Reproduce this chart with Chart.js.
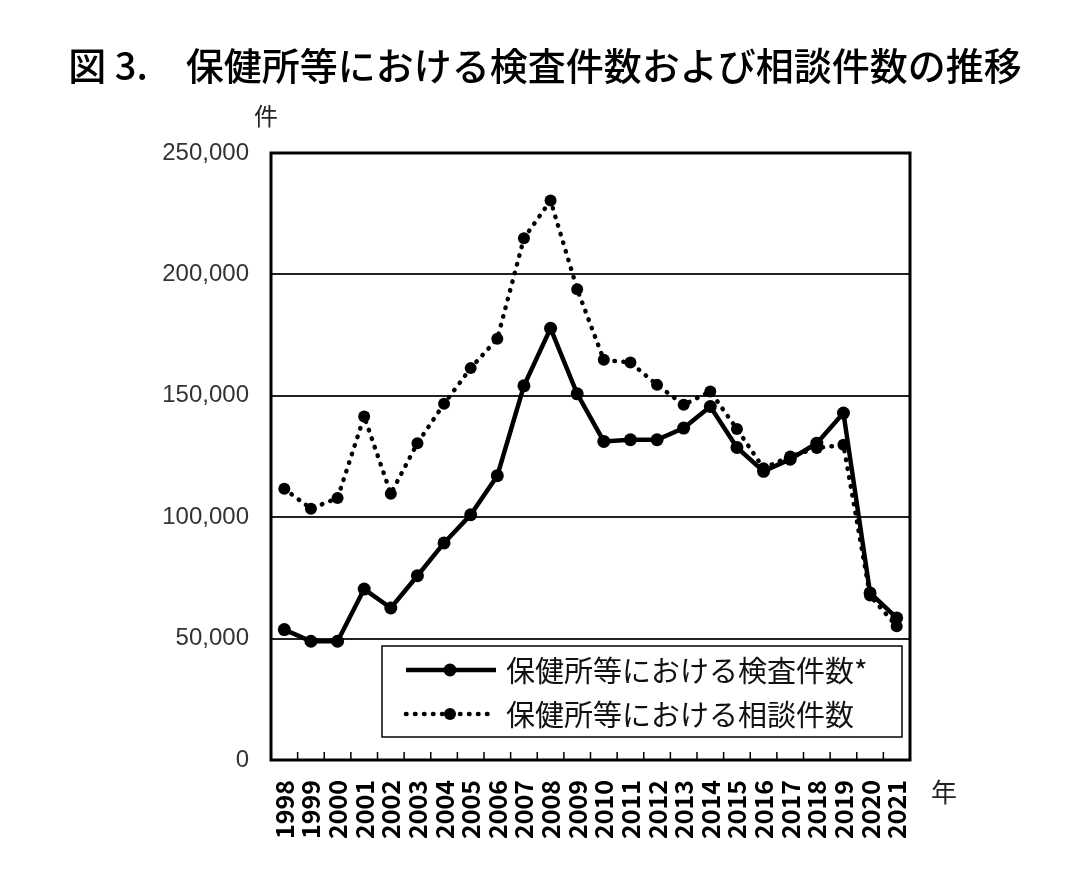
<!DOCTYPE html>
<html>
<head>
<meta charset="utf-8">
<script src="https://cdn.jsdelivr.net/npm/chart.js@4.4.1/dist/chart.umd.min.js"></script>
<style>
html,body{margin:0;padding:0;background:#fff;}
canvas{display:block;}
</style>
</head>
<body>
<canvas id="c" width="1086" height="886"></canvas>
<script>
const years = ["1998","1999","2000","2001","2002","2003","2004","2005","2006","2007","2008","2009","2010","2011","2012","2013","2014","2015","2016","2017","2018","2019","2020","2021"];
const testCounts = [53700,48900,48900,70400,62600,75900,89400,101000,117100,154100,177800,150800,131200,131900,131900,136700,145600,128700,118900,123900,130500,142900,68800,58500];
const consultCounts = [111700,103500,107900,141500,109700,130500,146700,161400,173500,214900,230400,193900,164800,163700,154500,146300,151800,136300,120200,125000,128500,129800,67700,55100];
const yTicks = [0,50000,100000,150000,200000,250000];
const titleText = "図 3.\u3000保健所等における検査件数および相談件数の推移";
const seriesLabels = ["保健所等における検査件数*","保健所等における相談件数"];
const yUnit = "件";
const xUnit = "年";

const JP = '"Noto Sans CJK JP","Noto Sans",sans-serif';

const decor = {
  id: 'decor',
  afterDatasetsDraw(chart) {
    const ctx = chart.ctx;
    const a = chart.chartArea;
    const xs = chart.scales.x;
    ctx.save();
    // inner tick marks at category boundaries
    ctx.strokeStyle = '#000';
    ctx.lineWidth = 1.5;
    for (let i = 1; i < years.length; i++) {
      const px = (xs.getPixelForValue(i - 1) + xs.getPixelForValue(i)) / 2;
      ctx.beginPath();
      ctx.moveTo(px, a.bottom);
      ctx.lineTo(px, a.bottom - 8);
      ctx.stroke();
    }
    // frame
    ctx.lineWidth = 3;
    ctx.strokeRect(a.left, a.top, a.right - a.left, a.bottom - a.top);

    // legend
    const lx = a.left + 111, ly = a.top + 493, lw = 520, lh = 91;
    ctx.fillStyle = '#fff';
    ctx.fillRect(lx, ly, lw, lh);
    ctx.lineWidth = 1.5;
    ctx.strokeStyle = '#000';
    ctx.strokeRect(lx, ly, lw, lh);
    const rows = [ly + 24, ly + 68];
    chart.data.datasets.forEach((ds, i) => {
      const y = rows[i];
      ctx.save();
      ctx.strokeStyle = '#000';
      ctx.lineWidth = ds.borderWidth;
      ctx.lineCap = ds.borderCapStyle || 'butt';
      ctx.setLineDash(ds.borderDash || []);
      ctx.beginPath();
      ctx.moveTo(lx + 24, y);
      ctx.lineTo(lx + 114, y);
      ctx.stroke();
      ctx.setLineDash([]);
      ctx.fillStyle = '#000';
      ctx.beginPath();
      ctx.arc(lx + 68, y, ds.pointRadius, 0, Math.PI * 2);
      ctx.fill();
      ctx.restore();
      ctx.fillStyle = '#111';
      ctx.font = '29px ' + JP;
      ctx.textAlign = 'left';
      ctx.textBaseline = 'middle';
      ctx.fillText(ds.label, lx + 124, y + 1);
    });

    // title
    ctx.fillStyle = '#000';
    ctx.font = '500 38px ' + JP;
    ctx.textAlign = 'center';
    ctx.textBaseline = 'middle';
    ctx.fillText(titleText, 545, 66);
    // units
    ctx.font = '24px ' + JP;
    ctx.fillStyle = '#222';
    ctx.fillText(yUnit, a.left - 5, 116);
    ctx.font = '26px ' + JP;
    ctx.fillText(xUnit, a.right + 34, 792);
    ctx.restore();
  }
};

new Chart(document.getElementById('c'), {
  type: 'line',
  data: {
    labels: years,
    datasets: [
      {
        label: seriesLabels[0],
        data: testCounts,
        borderColor: '#000',
        backgroundColor: '#000',
        borderWidth: 4.5,
        pointRadius: 6.5,
        pointBackgroundColor: '#000',
        pointBorderWidth: 0,
        tension: 0,
        order: 1
      },
      {
        label: seriesLabels[1],
        data: consultCounts,
        borderColor: '#000',
        backgroundColor: '#000',
        borderWidth: 4.5,
        borderDash: [0.5, 8.5],
        borderCapStyle: 'round',
        pointRadius: 6,
        pointBackgroundColor: '#000',
        pointBorderWidth: 0,
        tension: 0,
        order: 2
      }
    ]
  },
  options: {
    responsive: false,
    animation: false,
    devicePixelRatio: 1,
    layout: { padding: { top: 153, right: 176, left: 0, bottom: 0 } },
    plugins: {
      legend: { display: false },
      title: { display: false },
      tooltip: { enabled: false }
    },
    scales: {
      x: {
        type: 'category',
        offset: true,
        grid: { display: false, drawTicks: false },
        border: { display: false },
        ticks: {
          autoSkip: false,
          maxRotation: 90,
          minRotation: 90,
          padding: 20,
          color: '#000',
          font: { family: JP, size: 25, weight: 'bold' }
        },
        afterFit(scale) { scale.height = 126; }
      },
      y: {
        min: 0,
        max: 250000,
        afterBuildTicks(scale) { scale.ticks = yTicks.map(v => ({ value: v })); },
        grid: { color: '#222', lineWidth: 2, drawTicks: false },
        border: { display: false },
        ticks: {
          padding: 22,
          color: '#333',
          font: { family: '"Liberation Sans", Arial, sans-serif', size: 24 },
          callback: v => v.toLocaleString('en-US')
        },
        afterFit(scale) { scale.width = 271; }
      }
    }
  },
  plugins: [decor]
});
</script>
</body>
</html>
